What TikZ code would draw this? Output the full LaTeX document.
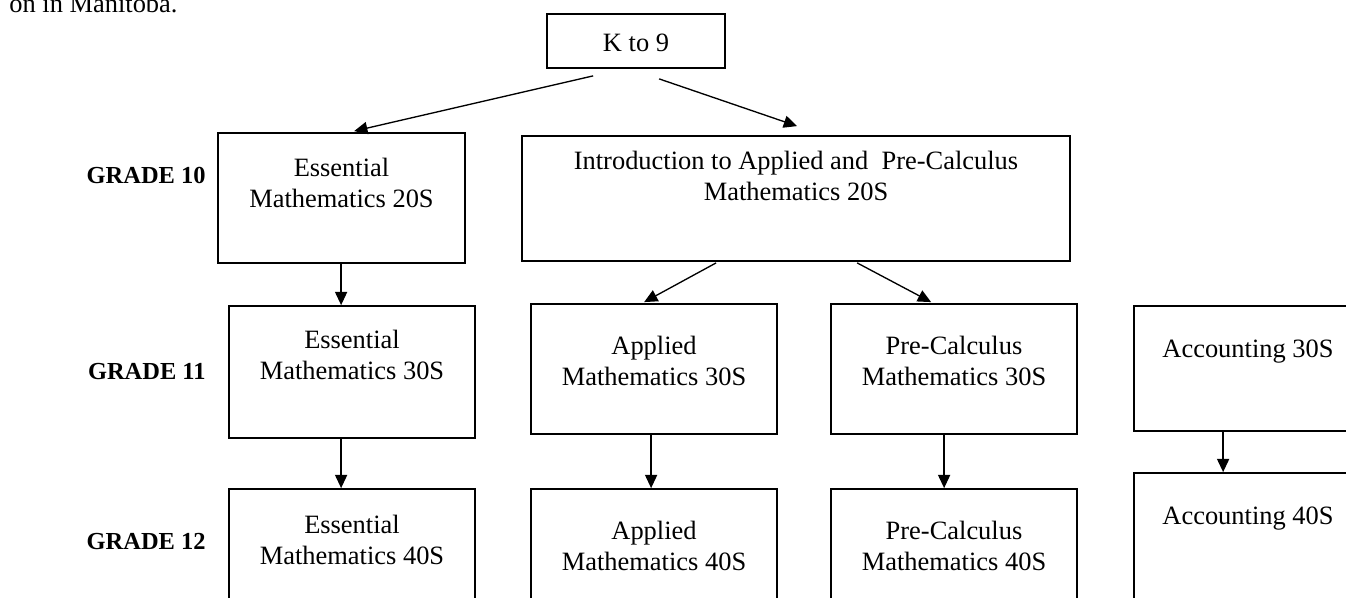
\documentclass[tikz,border=0pt]{standalone}
\usepackage{fontspec}
\setmainfont{Liberation Serif}
\usetikzlibrary{arrows.meta, calc}

\begin{document}
\begin{tikzpicture}[
    x=0.45pt, y=-0.45pt,
    every node/.style={font=\fontsize{11.9}{13.9}\selectfont},
    % Box Styles
    box/.style={rectangle, draw=black, thick, inner sep=0pt},
    boxtext/.style={align=center, inner sep=0pt, anchor=north},
    grade/.style={font=\fontsize{11}{13}\selectfont\bfseries, anchor=base east, inner sep=0pt},
    % Edge Styles
    arr/.style={-{Triangle[length=6pt, width=5.5pt]}, semithick}
]

% Page frame
\useasboundingbox (0,0) rectangle (1346,598);
\clip (0,0) rectangle (1346,598);

% Helper macro for course boxes
% #1: name, #2-#5: corners (left, top, right, bottom), #6: text drop, #7: text
\newcommand{\courseBox}[7]{
    \node[box, minimum width={(#4-#2)*0.45pt}, minimum height={(#5-#3)*0.45pt}]
        (#1) at ({(#2+#4)/2}, {(#3+#5)/2}) {};
    \node[boxtext] (#1-txt) at ([shift={(0,#6)}]#1.north) {#7};
}

% Caption remnant
\node[anchor=base east, inner sep=0pt] (caption) at (178,13) {on in Manitoba.};

% Boxes
\courseBox{k9}{547}{14}{725}{68}{20}{K to 9}
\courseBox{ess20}{218}{133}{465}{263}{26}{Essential\\Mathematics 20S}
\courseBox{intro}{522}{136}{1070}{261}{16}{Introduction to Applied and\ \ Pre-Calculus\\Mathematics 20S}

\courseBox{ess30}{229}{306}{475}{438}{25}{Essential\\Mathematics 30S}
\courseBox{app30}{531}{304}{777}{434}{33}{Applied\\Mathematics 30S}
\courseBox{pre30}{831}{304}{1077}{434}{33}{Pre-Calculus\\Mathematics 30S}
\courseBox{acc30}{1134}{306}{1362}{431}{34}{Accounting 30S}

\courseBox{ess40}{229}{489}{475}{640}{27}{Essential\\Mathematics 40S}
\courseBox{app40}{531}{489}{777}{640}{33}{Applied\\Mathematics 40S}
\courseBox{pre40}{831}{489}{1077}{640}{33}{Pre-Calculus\\Mathematics 40S}
\courseBox{acc40}{1134}{473}{1362}{640}{34}{Accounting 40S}

% Grade labels
\node[grade] (g10) at (206,184) {GRADE 10};
\node[grade] (g11) at (206,380) {GRADE 11};
\node[grade] (g12) at (206,549) {GRADE 12};

% Arrows
\draw[arr] ([shift={(47,7)}]k9.south west) -- ([shift={(137,-1)}]ess20.north west);
\draw[arr] ([shift={(113,10)}]k9.south west) -- ([shift={(276,-9)}]intro.north west);
\draw[arr] ([shift={(195,1)}]intro.south west) -- ([shift={(114,-1)}]app30.north west);
\draw[arr] ([shift={(336,1)}]intro.south west) -- ([shift={(101,-1)}]pre30.north west);

\draw[arr] ([shift={(124,0)}]ess20.south west) -- ([shift={(113,0)}]ess30.north west);
\draw[arr] ([shift={(113,0)}]ess30.south west) -- ([shift={(113,0)}]ess40.north west);
\draw[arr] ([shift={(121,0)}]app30.south west) -- ([shift={(121,0)}]app40.north west);
\draw[arr] ([shift={(114,0)}]pre30.south west) -- ([shift={(114,0)}]pre40.north west);
\draw[arr] ([shift={(90,0)}]acc30.south west) -- ([shift={(90,0)}]acc40.north west);

\end{tikzpicture}
\end{document}
